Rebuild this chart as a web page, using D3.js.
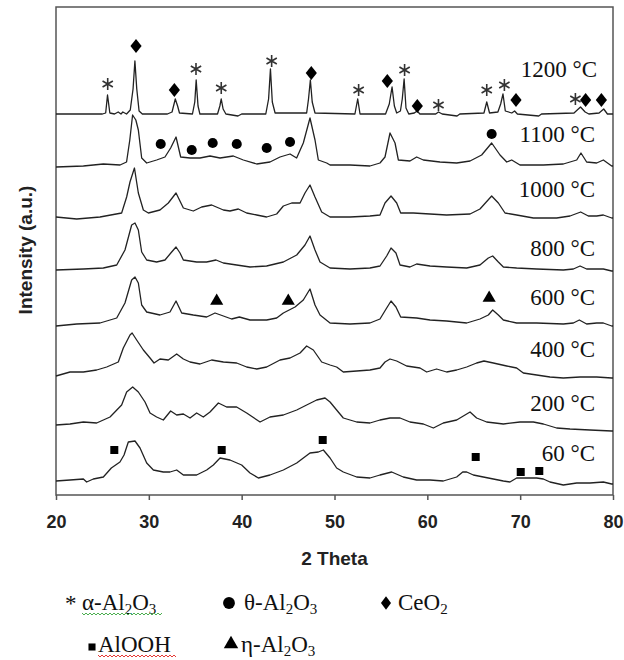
<!DOCTYPE html>
<html>
<head>
<meta charset="utf-8">
<script src="https://cdn.jsdelivr.net/npm/d3@7"></script>
<style>
  body { margin: 0; background: #fff; }
</style>
</head>
<body>
<div id="chart"></div>
<script>
// ---- data ----
const temps = ["1200 °C", "1100 °C", "1000 °C", "800 °C", "600 °C", "400 °C", "200 °C", "60 °C"];
const offsets = [381, 328, 277, 225, 169, 119, 70, 14];          // vertical stacking, a.u.
const labelLevels = [418.5, 353.5, 298.5, 239.5, 190.5, 138.5, 84.5, 34.5];
const xTicks = [20, 30, 40, 50, 60, 70, 80];

const xrd1200 = [[20,0],[25.0,0],[25.35,1],[25.55,19],[25.8,1],[26.3,0],[26.7,2],[27.0,0],[27.2,2],[27.6,0],[28.0,4],[28.3,25],[28.5,53],[28.7,25],[28.95,3],[29.3,0],[32.0,0],[32.5,2],[32.85,15],[33.1,8],[33.3,1],[34.7,0],[34.95,12],[35.1,34],[35.3,8],[35.5,0],[37.4,0],[37.65,8],[37.8,15],[38.0,5],[38.3,0],[39.6,-2],[40.0,0],[42.6,0],[42.9,15],[43.1,45],[43.3,12],[43.6,1],[47.0,1],[47.2,15],[47.4,34],[47.6,12],[47.9,1],[52.2,0],[52.5,15],[52.75,0],[55.5,0],[55.9,10],[56.2,27],[56.45,8],[56.7,1],[57.1,3],[57.3,15],[57.5,35],[57.7,6],[58.0,0],[58.6,1],[58.9,3],[59.2,0],[60.9,0],[61.2,2],[61.6,0],[63.2,-2],[63.5,0],[66.1,1],[66.4,12],[66.7,1],[67.6,2],[67.9,10],[68.15,20],[68.4,3],[69.1,1],[69.4,3],[69.7,0],[72.0,-2],[72.3,0],[75.8,1],[76.5,7],[77.0,2],[77.4,0],[78.5,1],[79.0,5],[79.4,0],[80,0]];
const xrd1100 = [[20,0],[22.95,1],[25.1,3],[26.9,2],[27.6,5],[27.95,27],[28.25,52],[28.6,47],[28.87,37],[29.23,9],[29.77,4],[30.84,7],[31.74,10],[32.35,19],[32.93,30],[33.43,10],[34.44,9],[35.51,9],[36.59,11],[37.67,9],[39.1,11],[40.18,7],[41.62,3],[43.05,5],[44.13,10],[45.21,13],[45.92,9],[46.64,24],[47.36,49],[47.9,27],[48.26,7],[49.16,4],[49.52,2],[51.67,2],[53.82,1],[54.9,4],[55.44,10],[55.98,34],[56.52,24],[56.88,7],[58.13,6],[58.85,10],[59.57,7],[61.36,5],[63.16,4],[64.6,6],[65.85,12],[66.93,24],[67.83,12],[68.55,5],[69.09,7],[69.98,2],[72.5,2],[74.65,3],[76.09,7],[76.55,14],[77.16,5],[78.24,4],[78.96,7],[79.86,1],[80,1]];
const xrd1000 = [[20,1],[22.23,-1],[24.74,1],[27.07,5],[27.61,21],[27.97,36],[28.45,50],[28.87,25],[29.41,8],[29.95,5],[31.2,8],[32.1,15],[32.93,25],[33.72,10],[34.79,7],[35.69,11],[36.77,13],[38.03,8],[38.74,7],[39.64,9],[40.54,5],[41.62,3],[42.69,1],[43.77,4],[44.49,12],[45.39,15],[46.29,15],[46.82,25],[47.36,33],[47.9,21],[48.62,6],[49.52,1],[51.67,1],[53.82,2],[54.9,3],[55.44,15],[56.09,22],[56.7,15],[57.13,5],[58.49,5],[60.29,4],[62.08,3],[64.6,4],[65.67,9],[66.93,22],[67.65,15],[68.37,5],[69.62,3],[71.42,0],[73.93,0],[75.37,2],[76.52,6],[77.34,2],[78.24,2],[78.96,3],[79.86,0],[80,0]];
const xrd800 = [[20,0],[22.95,1],[25.1,2],[26.54,5],[27.43,20],[28.15,45],[28.51,47],[28.87,40],[29.23,18],[29.77,10],[30.84,8],[31.74,10],[32.46,18],[32.93,23],[33.36,17],[33.72,10],[35.15,8],[36.23,8],[37.24,10],[38.03,7],[39.46,5],[40.9,3],[42.69,4],[44.49,8],[45.93,15],[46.82,25],[47.36,34],[47.9,20],[48.44,8],[49.52,2],[51.67,1],[53.82,2],[54.9,4],[55.62,14],[56.09,22],[56.62,17],[57.06,5],[58.13,3],[58.85,6],[60.29,4],[62.08,3],[64.24,2],[65.67,5],[66.57,12],[67.04,14],[67.65,8],[68.19,3],[69.62,2],[71.78,1],[74.65,0],[75.73,1],[76.45,4],[77.16,1],[78.24,1],[78.96,1],[79.86,-1],[80,-1]];
const xrd600 = [[20,0],[22.23,2],[24.74,3],[26.54,8],[27.43,23],[28.15,46],[28.51,49],[28.87,43],[29.23,21],[29.77,14],[31.2,11],[32.28,14],[32.93,25],[33.54,13],[34.79,11],[36.23,9],[37.13,13],[38.03,10],[38.92,7],[39.75,9],[40.9,6],[42.69,6],[43.77,8],[44.49,13],[45.75,19],[46.64,26],[47.36,37],[47.9,21],[48.44,11],[49.52,3],[51.67,2],[53.82,3],[54.9,7],[55.62,18],[56.09,25],[56.62,19],[57.13,9],[58.85,8],[60.29,6],[62.08,5],[64.24,3],[65.67,7],[66.57,11],[67.04,16],[67.65,11],[68.19,6],[69.62,3],[71.78,3],[74.65,2],[75.73,3],[76.37,6],[77.16,2],[78.24,3],[78.96,3],[79.86,0],[80,0]];
const xrd400 = [[20,0],[21.51,4],[22.95,4],[24.38,6],[25.46,9],[26.71,14],[27.25,28],[27.97,41],[28.2,43],[28.69,36],[29.41,26],[30.13,18],[30.56,13],[31.2,17],[32.1,16],[33.0,22],[33.72,17],[34.44,14],[35.51,12],[36.77,16],[38.03,14],[39.46,13],[40.54,9],[41.62,7],[42.69,9],[44.13,16],[45.21,18],[46.29,23],[47.0,30],[47.72,26],[48.62,14],[49.52,11],[50.23,9],[50.95,4],[52.39,5],[53.82,6],[54.9,8],[55.44,14],[55.98,17],[56.7,15],[57.77,10],[59.21,8],[59.93,4],[61.0,7],[62.08,4],[63.16,6],[64.24,9],[65.31,13],[66.1,15],[67.11,13],[68.55,10],[69.62,8],[70.34,3],[71.78,1],[73.21,-1],[74.65,-2],[76.45,-1],[78.24,-1],[79.86,-2],[80,-2]];
const xrd200 = [[20,0],[21.51,1],[22.95,3],[24.38,2],[25.82,8],[27.07,20],[27.61,33],[28.26,38],[28.87,33],[29.59,23],[30.13,12],[30.84,8],[31.56,5],[32.35,14],[33.0,10],[33.72,11],[34.44,7],[35.15,12],[35.87,8],[36.59,13],[37.49,22],[38.38,18],[39.46,18],[40.54,12],[41.98,3],[43.05,8],[44.49,10],[45.93,15],[47.0,20],[48.08,25],[48.98,27],[49.52,23],[50.23,15],[50.95,7],[52.39,3],[53.82,2],[54.9,5],[55.98,7],[57.06,7],[58.13,3],[59.57,1],[60.65,-3],[61.72,2],[63.16,5],[64.06,10],[64.6,13],[65.31,7],[66.39,3],[68.19,1],[69.98,3],[71.42,3],[72.5,1],[73.93,-3],[75.37,-4],[77.52,-5],[79.86,-6],[80,-6]];
const xrd60 = [[20,0],[21.51,1],[22.95,2],[23.3,-1],[24.02,2],[25.1,4],[25.96,13],[26.89,19],[27.33,26],[27.79,39],[28.51,40],[29.05,33],[29.77,18],[30.49,11],[31.56,9],[32.28,9],[33.0,11],[33.72,6],[35.15,6],[36.23,11],[36.95,16],[37.67,23],[38.74,21],[40.0,16],[40.9,8],[41.8,3],[43.05,6],[44.49,11],[45.93,18],[47.36,28],[48.26,29],[48.8,31],[49.52,23],[50.23,13],[50.95,9],[52.39,4],[53.82,3],[54.9,6],[56.16,9],[57.41,4],[58.85,1],[60.29,1],[61.72,0],[63.16,4],[63.81,9],[64.24,9],[64.96,6],[66.03,4],[67.11,2],[68.19,0],[68.9,-1],[69.62,3],[70.34,3],[71.78,3],[72.5,2],[73.21,-1],[74.65,-4],[76.09,-2],[77.52,-2],[78.96,-1],[79.86,-3],[80,-3]];

const patterns = [xrd1200, xrd1100, xrd1000, xrd800, xrd600, xrd400, xrd200, xrd60];

// phase markers: [2theta, a.u. level]
const alphaPeaks = [[25.57,411],[35.08,426],[37.8,407],[43.23,434],[52.6,405],[57.55,425],[61.2,390],[66.4,405],[68.3,410],[75.95,396]];
const ceriaPeaks = [[28.62,449],[32.75,405],[47.5,422],[55.69,414],[58.92,389],[69.55,395],[77.05,395],[78.75,395]];
const thetaPeaks = [[31.28,351],[34.62,345],[36.88,352],[39.47,351],[42.7,347],[45.21,353],[66.93,361]];
const etaPeaks = [[37.31,194],[45.02,194],[66.66,197]];
const aloohPeaks = [[26.28,45],[37.85,45],[48.73,55],[65.21,38],[70.06,23],[72.06,24]];

const legendRow1 = ["α-Al_2O_3", "θ-Al_2O_3", "CeO_2"];
const legendRow2 = ["AlOOH", "η-Al_2O_3"];

// ---- chart ----
const width = 624, height = 660;
const margin = {top: 7, right: 11, bottom: 165, left: 56};
const serif = "'Liberation Serif', 'Times New Roman', serif";
const sans = "'Liberation Sans', Arial, sans-serif";

let svg = d3.select("#chart")
    .append("svg")
    .attr("width", width)
    .attr("height", height);

let x = d3.scaleLinear()
    .domain([20, 80])
    .range([margin.left, width - margin.right]);

let y = d3.scaleLinear()
    .domain([0, 488])
    .range([height - margin.bottom, margin.top]);

// frame
svg.append("rect")
    .attr("x", x(20))
    .attr("y", y(488))
    .attr("width", x(80) - x(20))
    .attr("height", y(0) - y(488))
    .attr("fill", "none")
    .attr("stroke", "#555")
    .attr("stroke-width", 1.5);

// x axis
svg.append("g")
    .attr("transform", `translate(0,${y(0)})`)
    .call(d3.axisBottom(x).tickValues(xTicks).tickSize(5).tickPadding(15).tickFormat(d3.format("d")))
    .call(g => g.select(".domain").remove())
    .call(g => g.selectAll("line").attr("stroke", "#555").attr("stroke-width", 1.5))
    .call(g => g.selectAll("text")
        .attr("font-family", sans)
        .attr("font-weight", "bold")
        .attr("font-size", 18)
        .attr("fill", "#222"));

svg.append("text")
    .attr("x", (x(20) + x(80)) / 2)
    .attr("y", 565)
    .attr("text-anchor", "middle")
    .attr("font-family", sans)
    .attr("font-weight", "bold")
    .attr("font-size", 19)
    .attr("fill", "#222")
    .text("2 Theta");

svg.append("text")
    .attr("transform", "translate(32,250) rotate(-90)")
    .attr("text-anchor", "middle")
    .attr("font-family", sans)
    .attr("font-weight", "bold")
    .attr("font-size", 19)
    .attr("fill", "#222")
    .text("Intensity (a.u.)");

// patterns
const line = d3.line();

svg.append("g")
    .selectAll("path")
    .data(patterns)
    .join("path")
    .attr("d", (d, i) => line(d.map(p => [x(p[0]), y(p[1] + offsets[i])])))
    .attr("fill", "none")
    .attr("stroke", "#222")
    .attr("stroke-width", 1.3)
    .attr("stroke-linejoin", "round");

// temperature labels
svg.append("g")
    .selectAll("text")
    .data(temps)
    .join("text")
    .attr("x", (d, i) => i == 0 ? 597 : 595)
    .attr("y", (d, i) => y(labelLevels[i]))
    .attr("text-anchor", "end")
    .attr("font-family", serif)
    .attr("font-size", 23)
    .attr("fill", "#111")
    .text(d => d);

// markers
function drawMarks(data, type, size, tf, stroked) {
    svg.append("g")
        .selectAll("path")
        .data(data)
        .join("path")
        .attr("d", d3.symbol().type(type).size(size))
        .attr("transform", d => `translate(${x(d[0])},${y(d[1])})` + (tf || ""))
        .attr("fill", stroked ? "none" : "#000")
        .attr("stroke", stroked ? "#333" : "none")
        .attr("stroke-width", stroked ? 1.6 : 0);
}

drawMarks(alphaPeaks, d3.symbolAsterisk, 100, "", true);
drawMarks(ceriaPeaks, d3.symbolSquare, 98, " scale(0.8,1) rotate(45)");
drawMarks(thetaPeaks, d3.symbolCircle, 80);
drawMarks(etaPeaks, d3.symbolTriangle, 75);
drawMarks(aloohPeaks, d3.symbolSquare, 64);

// legend
function chem(sel, label) {
    const parts = label.split(/_(\d)/);
    parts.forEach((p, i) => {
        if (!p) return;
        if (i % 2 == 1) {
            sel.append("tspan").attr("dy", 4).attr("font-size", 15).text(p);
        } else {
            sel.append("tspan").attr("dy", i > 0 ? -4 : 0).text(p);
        }
    });
}

function wavy(x0, x1, yy, color) {
    let pts = [];
    for (let xx = x0, k = 0; xx <= x1; xx += 2, k++) pts.push([xx, yy + (k % 2 ? 2 : 0)]);
    svg.append("path")
        .attr("d", d3.line()(pts))
        .attr("fill", "none")
        .attr("stroke", color)
        .attr("stroke-width", 1);
}

let legend = svg.append("g")
    .attr("font-family", serif)
    .attr("font-size", 23)
    .attr("fill", "#111");

const row1x = [82, 244, 398];
const row2x = [98, 241];

legendRow1.forEach((lab, i) => chem(legend.append("text").attr("x", row1x[i]).attr("y", 610), lab));
legendRow2.forEach((lab, i) => chem(legend.append("text").attr("x", row2x[i]).attr("y", 652), lab));

legend.append("text")
    .attr("x", 65)
    .attr("y", 611)
    .text("*");

const legendSym = (type, size, cx, cy, tf) => legend.append("path")
    .attr("d", d3.symbol().type(type).size(size))
    .attr("transform", `translate(${cx},${cy})` + (tf || ""))
    .attr("fill", "#000");

legendSym(d3.symbolCircle, 110, 229, 603);
legendSym(d3.symbolSquare, 90, 386, 603, " scale(0.75,1) rotate(45)");
legendSym(d3.symbolSquare, 50, 92, 647);
legendSym(d3.symbolTriangle, 90, 231, 644);

wavy(82, 163, 613, "#4caf50");
wavy(98, 177, 655, "#e53935");
</script>
</body>
</html>
